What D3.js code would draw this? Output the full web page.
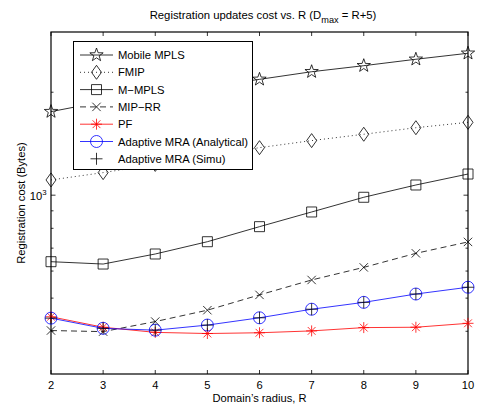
<!DOCTYPE html>
<html><head><meta charset="utf-8">
<script src="https://cdn.jsdelivr.net/npm/d3@7"></script>
<style>body{margin:0;background:#fff}svg{display:block;font-family:"Liberation Sans",Arial,Helvetica,sans-serif}</style>
</head><body><svg id="c" width="478" height="404"></svg>
<script>
const radius = [2,3,4,5,6,7,8,9,10];
const mobileMPLS = [1755,1878,1985,2080,2181,2296,2391,2497,2600];
const fmip = [1108,1164,1230,1302,1377,1444,1507,1575,1633];
const mMPLS = [639,629,673,731,809,893,986,1071,1153];
const mipRR = [402,399,427,461,511,565,615,676,730];
const pf = [441,411,397,394,396,401,410,411,422];
const mraAnalytical = [437,408,403,417,438,464,486,514,538];
const mraSimu = [437,408,403,417,438,464,486,514,538];
const yMinorTicks = [400,500,600,700,800,900,2000];
const seriesNames = ["Mobile MPLS","FMIP","M\u2212MPLS","MIP\u2212RR","PF","Adaptive MRA (Analytical)","Adaptive MRA (Simu)"];

const svg = d3.select("#c");
const L=51,R=468,T=32,B=374;
const x = d3.scaleLinear().domain([2,10]).range([L,R]);
const y = d3.scaleLog().domain([300,3000]).range([B,T]);

function fitSize(sel, target){
  const fs = parseFloat(sel.attr("font-size"));
  const w = sel.node().getComputedTextLength();
  return w>0 ? fs*target/w : fs;
}

function star(s){const p=d3.path();for(let i=0;i<10;i++){const r=i%2?s*0.4:s;const a=-Math.PI/2+i*Math.PI/5;const px=r*Math.cos(a),py=r*Math.sin(a);i?p.lineTo(px,py):p.moveTo(px,py);}p.closePath();return p.toString();}
const markers = {
 star: ()=>star(7),
 diamond: ()=>"M0,-7L5,0L0,7L-5,0Z",
 square: ()=>"M-5,-5H5V5H-5Z",
 x: ()=>"M-4.2,-4.2L4.2,4.2M-4.2,4.2L4.2,-4.2",
 asterisk: ()=>"M0,-5.5V5.5M-5.5,0H5.5M-3.9,-3.9L3.9,3.9M-3.9,3.9L3.9,-3.9",
 circle: ()=>"M6,0A6,6 0 1,1 -6,0A6,6 0 1,1 6,0",
 plus: ()=>"M0,-6V6M-6,0H6"
};
const series = [
 {name:seriesNames[0],vals:mobileMPLS,color:"#000",dash:null,line:true,m:"star"},
 {name:seriesNames[1],vals:fmip,color:"#000",dash:"1,3",line:true,m:"diamond"},
 {name:seriesNames[2],vals:mMPLS,color:"#000",dash:null,line:true,m:"square"},
 {name:seriesNames[3],vals:mipRR,color:"#000",dash:"6,4",line:true,m:"x"},
 {name:seriesNames[4],vals:pf,color:"#ff0000",dash:null,line:true,m:"asterisk"},
 {name:seriesNames[5],vals:mraAnalytical,color:"#0000ff",dash:null,line:true,m:"circle"},
 {name:seriesNames[6],vals:mraSimu,color:"#000",dash:null,line:false,m:"plus"}
];

const xlab = svg.append("text").attr("x",259.5).attr("y",402).attr("text-anchor","middle").attr("font-size",10.5).text("Domain\u2019s radius, R");
const axFs = fitSize(xlab,94);
xlab.attr("font-size",axFs);

const title = svg.append("text").attr("x",263).attr("y",19).attr("text-anchor","middle").attr("font-size",10.5);
title.append("tspan").text("Registration updates cost vs. R (D");
title.append("tspan").attr("font-size",8.5).attr("dy",3.5).text("max");
title.append("tspan").attr("dy",-3.5).text(" = R+5)");
const tW = title.node().getComputedTextLength();
const tk = 227/tW;
title.attr("font-size",10.5*tk); title.selectAll("tspan").filter((d,i)=>i===1).attr("font-size",8.5*tk);

const g = svg.append("g");
g.append("rect").attr("x",L).attr("y",T).attr("width",R-L).attr("height",B-T).attr("fill","none").attr("stroke","#000").attr("stroke-width",1.2);
radius.forEach(v=>{
  g.append("line").attr("x1",x(v)).attr("x2",x(v)).attr("y1",B).attr("y2",B-4).attr("stroke","#000").attr("stroke-width",0.8);
  g.append("line").attr("x1",x(v)).attr("x2",x(v)).attr("y1",T).attr("y2",T+4).attr("stroke","#000").attr("stroke-width",0.8);
  g.append("text").attr("x",x(v)).attr("y",389).attr("text-anchor","middle").attr("font-size",axFs).text(v);
});
yMinorTicks.forEach(v=>{
  [[L,L+2.5],[R,R-2.5]].forEach(([a,b])=>g.append("line").attr("x1",a).attr("x2",b).attr("y1",y(v)).attr("y2",y(v)).attr("stroke","#000").attr("stroke-width",0.8));
});
[[L,L+4.5],[R,R-4.5]].forEach(([a,b])=>g.append("line").attr("x1",a).attr("x2",b).attr("y1",y(1000)).attr("y2",y(1000)).attr("stroke","#000").attr("stroke-width",0.8));
const yl = g.append("text").attr("x",46.5).attr("y",y(1000)+4.5).attr("text-anchor","end").attr("font-size",axFs);
yl.append("tspan").text("10");
yl.append("tspan").attr("font-size",axFs*0.7).attr("dy",-5).text("3");

svg.append("text").attr("transform","translate(24.5,203) rotate(-90)").attr("text-anchor","middle").attr("font-size",axFs).text("Registration cost (Bytes)");

const line = d3.line().x((d,i)=>x(radius[i])).y(d=>y(d));
series.forEach(s=>{
  if(s.line) svg.append("path").attr("d",line(s.vals)).attr("fill","none").attr("stroke",s.color).attr("stroke-width",0.8).attr("stroke-dasharray",s.dash);
  s.vals.forEach((v,i)=>{
    svg.append("path").attr("d",markers[s.m]()).attr("transform",`translate(${x(radius[i])},${y(v)})`).attr("fill","none").attr("stroke",s.color).attr("stroke-width",0.8);
  });
});

const lg = svg.append("g");
lg.append("rect").attr("x",73.5).attr("y",41.5).attr("width",179).attr("height",128).attr("fill","#fff").attr("stroke","#000").attr("stroke-width",1);
const legTexts = [];
series.forEach((s,i)=>{
  const cy = 55 + i*17.3;
  if(s.line) lg.append("line").attr("x1",80).attr("x2",113).attr("y1",cy).attr("y2",cy).attr("stroke",s.color).attr("stroke-width",0.8).attr("stroke-dasharray",s.dash);
  lg.append("path").attr("d",markers[s.m]()).attr("transform",`translate(96.5,${cy})`).attr("fill","none").attr("stroke",s.color).attr("stroke-width",0.8);
  legTexts.push(lg.append("text").attr("x",118).attr("y",cy+4).attr("font-size",10.5).text(s.name));
});
const legFs = fitSize(legTexts[5],130);
legTexts.forEach(t=>t.attr("font-size",legFs));
</script></body></html>
